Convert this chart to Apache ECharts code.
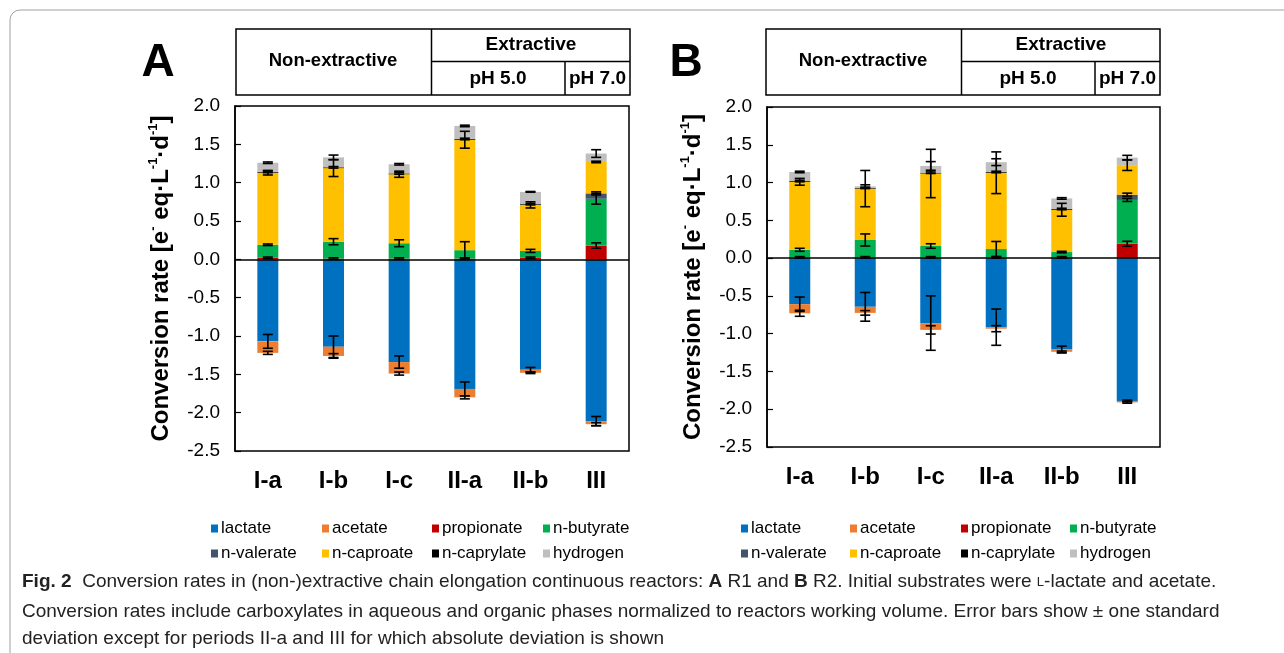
<!DOCTYPE html>
<html>
<head>
<meta charset="utf-8">
<script src="https://cdn.jsdelivr.net/npm/echarts@6/dist/echarts.min.js"></script>
<style>
html,body{margin:0;padding:0;background:#fff;}
#chart{width:1284px;height:653px;}
</style>
</head>
<body>
<div id="chart"></div>
<script>
// ---------- DATA ----------
const categories = ['I-a', 'I-b', 'I-c', 'II-a', 'II-b', 'III'];
const seriesNames = ['lactate', 'acetate', 'propionate', 'n-butyrate', 'n-valerate', 'n-caproate', 'n-caprylate', 'hydrogen'];
const yTickMin = -2.5, yTickMax = 2.0, yTickStep = 0.5;

// Panel A (R1)
const aLactate    = [-1.07, -1.14, -1.34, -1.69, -1.44, -2.11];
const aAcetate    = [-0.15, -0.12, -0.15, -0.11, -0.04, -0.04];
const aPropionate = [0.02, 0.01, 0.01, 0.01, 0.02, 0.18];
const aButyrate   = [0.17, 0.22, 0.20, 0.11, 0.09, 0.61];
const aValerate   = [0, 0, 0, 0, 0, 0.07];
const aCaproate   = [0.94, 0.96, 0.90, 1.44, 0.60, 0.41];
const aCaprylate  = [0.01, 0.01, 0.01, 0.01, 0.01, 0];
const aHydrogen   = [0.12, 0.13, 0.12, 0.17, 0.16, 0.11];

const aLactateErr    = [0.09, 0.14, 0.08, 0.09, 0.03, 0.06];
const aAcetateErr    = [0.02, 0.03, 0.02, 0.02, 0.01, 0.02];
const aPropionateErr = [0.01, 0.01, 0.01, 0.01, 0.01, 0.035];
const aButyrateErr   = [0.01, 0.04, 0.045, 0.11, 0.02, 0.07];
const aValerateErr   = [null, null, null, null, null, 0.02];
const aCaproateErr   = [0.03, 0.11, 0.04, 0.11, 0.04, 0.01];
const aCaprylateErr  = [0.01, 0.01, 0.01, 0.01, 0.01, null];
const aHydrogenErr   = [0.01, 0.03, 0.01, 0.01, 0.005, 0.05];

// Panel B (R2)
const bLactate    = [-0.61, -0.645, -0.86, -0.914, -1.21, -1.89];
const bAcetate    = [-0.12, -0.08, -0.09, -0.02, -0.03, -0.02];
const bPropionate = [0.01, 0.01, 0.01, 0.01, 0.01, 0.19];
const bButyrate   = [0.10, 0.23, 0.15, 0.11, 0.07, 0.58];
const bValerate   = [0, 0, 0, 0, 0, 0.07];
const bCaproate   = [0.90, 0.68, 0.96, 1.01, 0.56, 0.39];
const bCaprylate  = [0.01, 0.01, 0.01, 0.01, 0.01, 0];
const bHydrogen   = [0.12, 0.02, 0.09, 0.13, 0.14, 0.10];

const bLactateErr    = [0.095, 0.19, 0.36, 0.24, 0.045, 0.01];
const bAcetateErr    = [0.04, 0.03, 0.055, 0.04, 0.01, 0.01];
const bPropionateErr = [0.01, 0.01, 0.01, 0.01, 0.01, 0.033];
const bButyrateErr   = [0.02, 0.08, 0.03, 0.10, 0.01, 0.02];
const bValerateErr   = [null, null, null, null, null, 0.02];
const bCaproateErr   = [0.045, 0.24, 0.32, 0.276, 0.085, 0.07];
const bCaprylateErr  = [0.01, 0.01, 0.01, 0.01, 0.01, null];
const bHydrogenErr   = [0.01, 0.02, 0.057, 0.045, 0.01, 0.03];

// ---------- STYLE ----------
const colors = ['#0070C0', '#ED7D31', '#C00000', '#00B050', '#44546A', '#FFC000', '#000000', '#BFBFBF'];
const FONT = 'Liberation Sans, Arial, sans-serif';

const panels = [
  { values: [aLactate, aAcetate, aPropionate, aButyrate, aValerate, aCaproate, aCaprylate, aHydrogen],
    errors: [aLactateErr, aAcetateErr, aPropionateErr, aButyrateErr, aValerateErr, aCaproateErr, aCaprylateErr, aHydrogenErr],
    grid: { left: 235, top: 106, width: 394, height: 345 } },
  { values: [bLactate, bAcetate, bPropionate, bButyrate, bValerate, bCaproate, bCaprylate, bHydrogen],
    errors: [bLactateErr, bAcetateErr, bPropionateErr, bButyrateErr, bValerateErr, bCaproateErr, bCaprylateErr, bHydrogenErr],
    grid: { left: 767, top: 107, width: 393, height: 340 } }
];

const grids = [], xAxes = [], yAxes = [], series = [];
panels.forEach((p, pi) => {
  grids.push(Object.assign({ show: true, borderColor: '#000', borderWidth: 1.5, backgroundColor: 'transparent' }, p.grid));
  xAxes.push({
    type: 'category', gridIndex: pi, data: categories,
    axisLine: { show: false }, axisTick: { show: false },
    axisLabel: { color: '#000', fontSize: 24, fontWeight: 'bold', fontFamily: FONT, margin: 18 }
  });
  yAxes.push({
    type: 'value', gridIndex: pi, min: yTickMin, max: yTickMax, interval: yTickStep,
    splitLine: { show: false },
    axisLine: { show: true, lineStyle: { color: '#000', width: 1.5 } },
    axisTick: { show: true, inside: true, length: 6, lineStyle: { color: '#000', width: 1.2 } },
    axisLabel: { color: '#000', fontSize: 19, fontFamily: FONT, margin: 15, formatter: v => v.toFixed(1) },
    name: 'Conversion rate [e{sup|-} eq·L{sup|-1}·d{sup|-1}]',
    nameLocation: 'middle', nameGap: 60,
    nameTextStyle: {
      color: '#000', fontSize: 24, fontWeight: 'bold', fontFamily: FONT, lineHeight: 28,
      rich: { sup: { fontSize: 13, fontWeight: 'bold', fontFamily: FONT, verticalAlign: 'top', lineHeight: 28, padding: [0, 0, 9, 0] } }
    }
  });
  // stacked bars
  seriesNames.forEach((name, si) => {
    const s = {
      name: name, type: 'bar', stack: 'panel' + pi, xAxisIndex: pi, yAxisIndex: pi,
      barWidth: 21, data: p.values[si],
      itemStyle: { color: colors[si] },
      emphasis: { disabled: true }
    };
    if (si === 0) {
      s.markLine = { silent: true, symbol: 'none', label: { show: false },
        lineStyle: { color: '#000', width: 1.5, type: 'solid' }, data: [{ yAxis: 0 }], z: 5 };
    }
    series.push(s);
  });
  // error bars at cumulative stack ends
  const errData = [];
  categories.forEach((c, ci) => {
    let pos = 0, neg = 0;
    p.values.forEach((arr, si) => {
      const v = arr[ci];
      if (v >= 0) pos += v; else neg += v;
      const e = p.errors[si][ci];
      if (e !== null && e !== undefined) errData.push([ci, v >= 0 ? pos : neg, e]);
    });
  });
  series.push({
    type: 'custom', xAxisIndex: pi, yAxisIndex: pi, z: 10, silent: true,
    data: errData,
    renderItem: function (params, api) {
      const c = api.value(0), y = api.value(1), e = api.value(2);
      const hi = api.coord([c, y + e]);
      const lo = api.coord([c, y - e]);
      const hw = 5;
      const st = { stroke: '#000', lineWidth: 1.6 };
      return { type: 'group', children: [
        { type: 'line', shape: { x1: hi[0], y1: hi[1], x2: lo[0], y2: lo[1] }, style: st },
        { type: 'line', shape: { x1: hi[0] - hw, y1: hi[1], x2: hi[0] + hw, y2: hi[1] }, style: st },
        { type: 'line', shape: { x1: lo[0] - hw, y1: lo[1], x2: lo[0] + hw, y2: lo[1] }, style: st }
      ]};
    }
  });
});

// legends: 4 columns x 2 rows per panel
const legendCols = [[211, 322, 432, 543], [741, 850, 961, 1070]];
const legends = [];
legendCols.forEach(cols => {
  cols.forEach((x, k) => {
    legends.push({
      left: x, top: 520, orient: 'vertical', padding: 0, itemGap: 8,
      itemWidth: 7, itemHeight: 8, icon: 'rect',
      data: [seriesNames[k], seriesNames[k + 4]],
      textStyle: { color: '#000', fontSize: 17, fontFamily: FONT, lineHeight: 17, padding: [0, 0, 0, -2] },
      selectedMode: false
    });
  });
});

// header tables, panel letters, caption, frame
const graphics = [];
const L = { stroke: '#000', lineWidth: 1.5 };
function line(x1, y1, x2, y2) { graphics.push({ type: 'line', shape: { x1, y1, x2, y2 }, style: L, silent: true }); }
function txt(x, y, t, size, weight, align, color) {
  graphics.push({ type: 'text', x: x, y: y, silent: true,
    style: { text: t, fill: color || '#000', font: (weight || 'bold') + ' ' + size + 'px ' + FONT,
      textAlign: align || 'center', textVerticalAlign: 'middle' } });
}
[0, 530].forEach((dx, i) => {
  graphics.push({ type: 'rect', shape: { x: 236 + dx, y: 29, width: 394, height: 66 }, style: { fill: 'none', stroke: '#000', lineWidth: 1.5 }, silent: true });
  line(431.5 + dx, 29, 431.5 + dx, 95);
  line(431.5 + dx, 61.5, 630 + dx, 61.5);
  line(565 + dx, 61.5, 565 + dx, 95);
  txt(333 + dx, 61, 'Non-extractive', 18.5);
  txt(531 + dx, 45, 'Extractive', 19);
  txt(498 + dx, 78.5, 'pH 5.0', 19);
  txt(597.5 + dx, 78.5, 'pH 7.0', 19);
  txt(158 + dx - (i ? 2 : 0), 63, i ? 'B' : 'A', 46);
});
graphics.push({ type: 'rect', shape: { x: 10, y: 10, width: 1300, height: 700, r: 10 },
  style: { fill: 'none', stroke: '#a0a0a0', lineWidth: 1 }, silent: true });
const capFont = 19;
graphics.push({ type: 'text', x: 22, y: 582, silent: true,
  style: { rich: { b: { fontWeight: 'bold', fontSize: capFont, fontFamily: FONT, fill: '#222' }, sc: { fontSize: 13, fontFamily: FONT, fill: '#222' } },
    text: '{b|Fig. 2}  Conversion rates in (non-)extractive chain elongation continuous reactors: {b|A} R1 and {b|B} R2. Initial substrates were {sc|L}-lactate and acetate.',
    font: capFont + 'px ' + FONT, fill: '#222', textVerticalAlign: 'middle' } });
txt(22, 612, 'Conversion rates include carboxylates in aqueous and organic phases normalized to reactors working volume. Error bars show ± one standard', capFont, 'normal', 'left', '#222');
txt(22, 639, 'deviation except for periods II-a and III for which absolute deviation is shown', capFont, 'normal', 'left', '#222');

const chart = echarts.init(document.getElementById('chart'), null, { renderer: 'canvas' });
chart.setOption({
  animation: false,
  backgroundColor: '#fff',
  textStyle: { fontFamily: FONT },
  grid: grids, xAxis: xAxes, yAxis: yAxes, legend: legends,
  series: series, graphic: graphics
});
</script>
</body>
</html>
